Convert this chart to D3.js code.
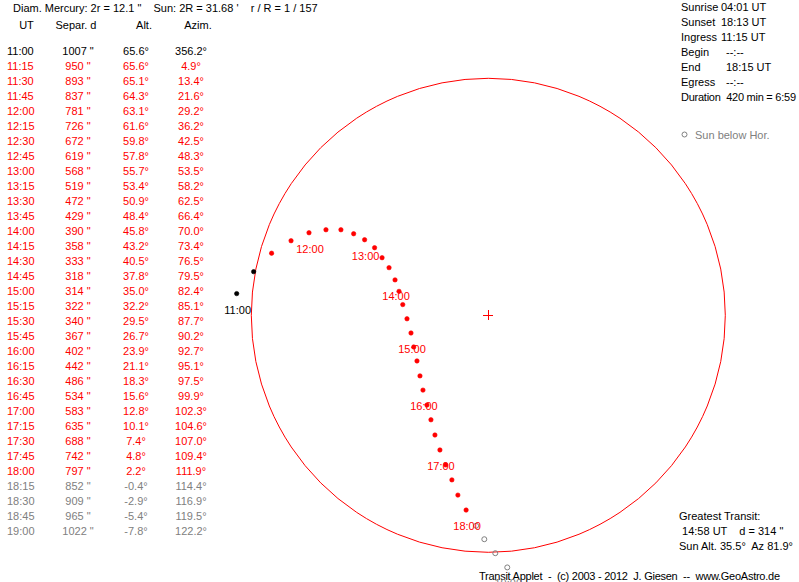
<!DOCTYPE html>
<html>
<head>
<meta charset="utf-8">
<script src="https://cdn.jsdelivr.net/npm/d3@7"></script>
<style>
  html, body { margin: 0; padding: 0; background: #fff; }
  svg { display: block; }
  text { font-family: Arial, "Liberation Sans", sans-serif; font-size: 11px; white-space: pre; }
</style>
</head>
<body>
<svg id="chart" width="799" height="582"></svg>
<script>
// ---------- DATA ----------
const times = ["11:00","11:15","11:30","11:45","12:00","12:15","12:30","12:45","13:00","13:15","13:30","13:45",
  "14:00","14:15","14:30","14:45","15:00","15:15","15:30","15:45","16:00","16:15","16:30","16:45",
  "17:00","17:15","17:30","17:45","18:00","18:15","18:30","18:45","19:00"];
const separation = [1007,950,893,837,781,726,672,619,568,519,472,429,390,358,333,318,314,322,340,367,402,442,486,534,583,635,688,742,797,852,909,965,1022];
const altitude = [65.6,65.6,65.1,64.3,63.1,61.6,59.8,57.8,55.7,53.4,50.9,48.4,45.8,43.2,40.5,37.8,35.0,32.2,29.5,26.7,23.9,21.1,18.3,15.6,12.8,10.1,7.4,4.8,2.2,-0.4,-2.9,-5.4,-7.8];
const azimuth = [356.2,4.9,13.4,21.6,29.2,36.2,42.5,48.3,53.5,58.2,62.5,66.4,70.0,73.4,76.5,79.5,82.4,85.1,87.7,90.2,92.7,95.1,97.5,99.9,102.3,104.6,107.0,109.4,111.9,114.4,116.9,119.5,122.2];
// Mercury offset from Sun centre (arcsec, x = right, y = up)
const offsetX = [-1009,-941,-869,-791,-719,-651,-591,-540,-496,-456,-426,-398,-374,-358,-343,-326,-310,-299,-286,-274,-262,-246,-230,-214,-194,-171,-146,-122,-89,-49,-16,28,76];
const offsetY = [87,175,249,299,331,343,343,327,303,271,231,191,142,96,43,-14,-71,-127,-183,-243,-300,-360,-419,-480,-540,-600,-660,-721,-781,-844,-898,-954,-1011];
// status: 0 = outside disc, 1 = in transit, 2 = sun below horizon
const dotStatus = [0,0,1,1,1,1,1,1,1,1,1,1,1,1,1,1,1,1,1,1,1,1,1,1,1,1,1,1,1,2,2,2,2];
const rowStatus = [0,1,1,1,1,1,1,1,1,1,1,1,1,1,1,1,1,1,1,1,1,1,1,1,1,1,1,1,1,2,2,2,2];
const hourLabels = ["11:00","12:00","13:00","14:00","15:00","16:00","17:00","18:00","19:00"];
const sunDiamArcmin = 31.68;

const titleText = "Diam. Mercury: 2r = 12.1 \"    Sun: 2R = 31.68 '    r / R = 1 / 157";
const headers = ["UT","Separ. d","Alt.","Azim."];
const infoLabels = ["Sunrise","Sunset","Ingress","Begin","End","Egress"];
const infoValues = ["04:01 UT","18:13 UT","11:15 UT","--:--","18:15 UT","--:--"];
const durationText = "Duration  420 min = 6:59";
const legendText = "Sun below Hor.";
const greatest = ["Greatest Transit:", " 14:58 UT    d = 314 \"", "Sun Alt. 35.5°  Az 81.9°"];
const footer = "Transit Applet  -  (c) 2003 - 2012  J. Giesen  --  www.GeoAstro.de";

// ---------- DRAW ----------
const svg = d3.select("#chart");
const RED = "#ff0000", GREY = "#808080", BLACK = "#000000";
const statusColor = s => s === 0 ? BLACK : (s === 1 ? RED : GREY);

const sunR = sunDiamArcmin * 60 / 2; // arcsec
const cx = 488.3, cy = 315.3, rPx = 237;
const x = d3.scaleLinear().domain([-sunR, sunR]).range([cx - rPx, cx + rPx]);
const y = d3.scaleLinear().domain([-sunR, sunR]).range([cy + rPx, cy - rPx]);

// title
svg.append("text").attr("x", 13).attr("y", 12).text(titleText);

// table header
const hdrX = [26.5, 76, 144, 198];
svg.selectAll("text.hdr").data(headers).enter().append("text")
  .attr("class","hdr")
  .attr("x", (d,i) => hdrX[i])
  .attr("y", 29)
  .attr("text-anchor","middle")
  .text(d => d);

// table rows
const rowY = i => 55 + 15 * i;
const rows = svg.selectAll("g.row").data(times).enter().append("g").attr("class","row")
  .attr("fill", (d,i) => statusColor(rowStatus[i]));
rows.append("text").attr("x", 7).attr("y", (d,i) => rowY(i)).text(d => d);
rows.append("text").attr("x", 78).attr("y", (d,i) => rowY(i)).attr("text-anchor","middle")
  .text((d,i) => separation[i] + " \"");
rows.append("text").attr("x", 136).attr("y", (d,i) => rowY(i)).attr("text-anchor","middle")
  .text((d,i) => altitude[i].toFixed(1) + "°");
rows.append("text").attr("x", 191).attr("y", (d,i) => rowY(i)).attr("text-anchor","middle")
  .text((d,i) => azimuth[i].toFixed(1) + "°");

// right info panel
svg.selectAll("text.infoL").data(infoLabels).enter().append("text")
  .attr("class","infoL").attr("x", 681).attr("y", (d,i) => 11 + 15 * i).text(d => d);
const valX = [721, 721, 721, 726, 726, 726];
svg.selectAll("text.infoV").data(infoValues).enter().append("text")
  .attr("class","infoV").attr("x", (d,i) => valX[i]).attr("y", (d,i) => 11 + 15 * i).text(d => d);
svg.append("text").attr("x", 681).attr("y", 101)
  .attr("textLength", 115).attr("lengthAdjust", "spacing").text(durationText);

// legend
svg.append("circle").attr("cx", 684.5).attr("cy", 134.5).attr("r", 2.5)
  .attr("fill","none").attr("stroke", GREY);
svg.append("text").attr("x", 695).attr("y", 139).attr("fill", GREY).text(legendText);

// greatest transit
svg.selectAll("text.gt").data(greatest).enter().append("text")
  .attr("class","gt").attr("x", 679).attr("y", (d,i) => 520 + 15 * i).text(d => d);

// footer
svg.append("text").attr("x", 479).attr("y", 580)
  .attr("textLength", 301).attr("lengthAdjust", "spacing").text(footer);

// sun disc
svg.append("circle").attr("cx", x(0)).attr("cy", y(0)).attr("r", x(sunR) - x(0))
  .attr("fill","none").attr("stroke", RED).attr("stroke-width", 1);
// centre cross
svg.append("path")
  .attr("d", `M${x(0)-5},${y(0)}H${x(0)+5}M${x(0)},${y(0)-5}V${y(0)+5}`)
  .attr("stroke", RED).attr("stroke-width", 1).attr("shape-rendering","crispEdges");

// Mercury positions
const pts = times.map((t,i) => ({t, px: x(offsetX[i]), py: y(offsetY[i]), s: dotStatus[i]}));
svg.selectAll("circle.merc").data(pts).enter().append("circle")
  .attr("class","merc")
  .attr("cx", d => d.px).attr("cy", d => d.py)
  .attr("r", d => d.s === 2 ? 2.5 : 2.2)
  .attr("fill", d => d.s === 2 ? "none" : statusColor(d.s))
  .attr("stroke", d => statusColor(d.s))
  .attr("stroke-width", d => d.s === 2 ? 1 : 0.6);

// hour labels
const lab = pts.filter(p => hourLabels.includes(p.t));
svg.selectAll("text.hl").data(lab).enter().append("text")
  .attr("class","hl")
  .attr("x", d => d.px + 1).attr("y", d => d.py + 20)
  .attr("text-anchor","middle")
  .attr("fill", d => statusColor(d.t === "11:00" ? 0 : d.s))
  .text(d => d.t);
</script>
</body>
</html>
